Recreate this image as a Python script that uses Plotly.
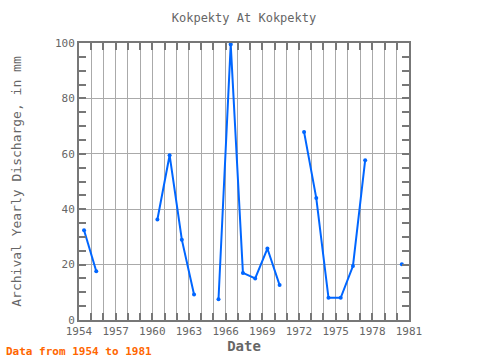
import plotly.graph_objects as go

years = list(range(1954, 1981))
values = [32.4, 17.6, None, None, None, None, 36.3, 59.5, 29.0, 9.2,
          None, 7.5, 99.5, 17.0, 15.0, 25.8, 12.6, None, 67.9, 44.0,
          8.0, 8.0, 19.5, 57.7, None, None, 20.1]
dates = [f"{y}-06-01" for y in years]

title_text = "Kokpekty At Kokpekty"
x_title = "Date"
y_title = "Archival Yearly Discharge, in mm"
note = "Data from 1954 to 1981"

FONT = "DejaVu Sans Mono"
GRAY = "#666666"

fig = go.Figure()
fig.add_trace(go.Scatter(
    x=dates, y=values, mode="lines+markers",
    line=dict(color="#0066ff", width=2),
    marker=dict(color="#0066ff", size=4),
    connectgaps=False, showlegend=False,
))

fig.update_layout(
    width=480, height=360,
    margin=dict(l=79, r=71, t=43, b=40),
    paper_bgcolor="white", plot_bgcolor="white",
    font=dict(family=FONT, color=GRAY, size=11),
    title=dict(text=title_text, x=0.5, xanchor="center", y=1 - 18 / 360, yanchor="middle",
               xref="paper", font=dict(family=FONT, size=12, color=GRAY)),
    xaxis=dict(
        type="date", range=["1954-01-01", "1981-01-01"], automargin=False,
        tick0="1954-01-01", dtick="M36", tickformat="%Y",
        ticks="inside", ticklen=7, tickwidth=2, tickcolor="#777777",
        showgrid=True, gridcolor="#aaaaaa", gridwidth=1,
        minor=dict(dtick="M12", tick0="1954-01-01", ticks="inside", ticklen=7,
                   tickwidth=2, tickcolor="#777777", showgrid=True,
                   gridcolor="#aaaaaa", gridwidth=1),
        showline=True, linecolor="#777777", linewidth=2, mirror="allticks",
        zeroline=False,
        title=dict(text=x_title, font=dict(family=FONT, size=14, color=GRAY, weight="bold"),
                   standoff=2),
        tickfont=dict(family=FONT, size=11, color=GRAY),
    ),
    yaxis=dict(
        range=[0, 100], tick0=0, dtick=20, automargin=False,
        ticks="inside", ticklen=7, tickwidth=2, tickcolor="#777777",
        showgrid=True, gridcolor="#aaaaaa", gridwidth=1,
        minor=dict(dtick=5, ticks="inside", ticklen=7, tickwidth=2,
                   tickcolor="#777777", showgrid=False),
        showline=True, linecolor="#777777", linewidth=2, mirror="allticks",
        zeroline=False,
        title=dict(text=y_title, font=dict(family=FONT, size=13, color=GRAY), standoff=30),
        tickfont=dict(family=FONT, size=11, color=GRAY),
    ),
    annotations=[dict(
        text=note, xref="paper", yref="paper",
        x=-75 / 330, y=-40 / 277, xanchor="left", yanchor="bottom",
        showarrow=False, font=dict(family=FONT, size=11, color="#ff6600", weight="bold"),
    )],
)

fig.write_html("out.html", config={"displayModeBar": False},
               post_script="document.body.style.margin='0';")
